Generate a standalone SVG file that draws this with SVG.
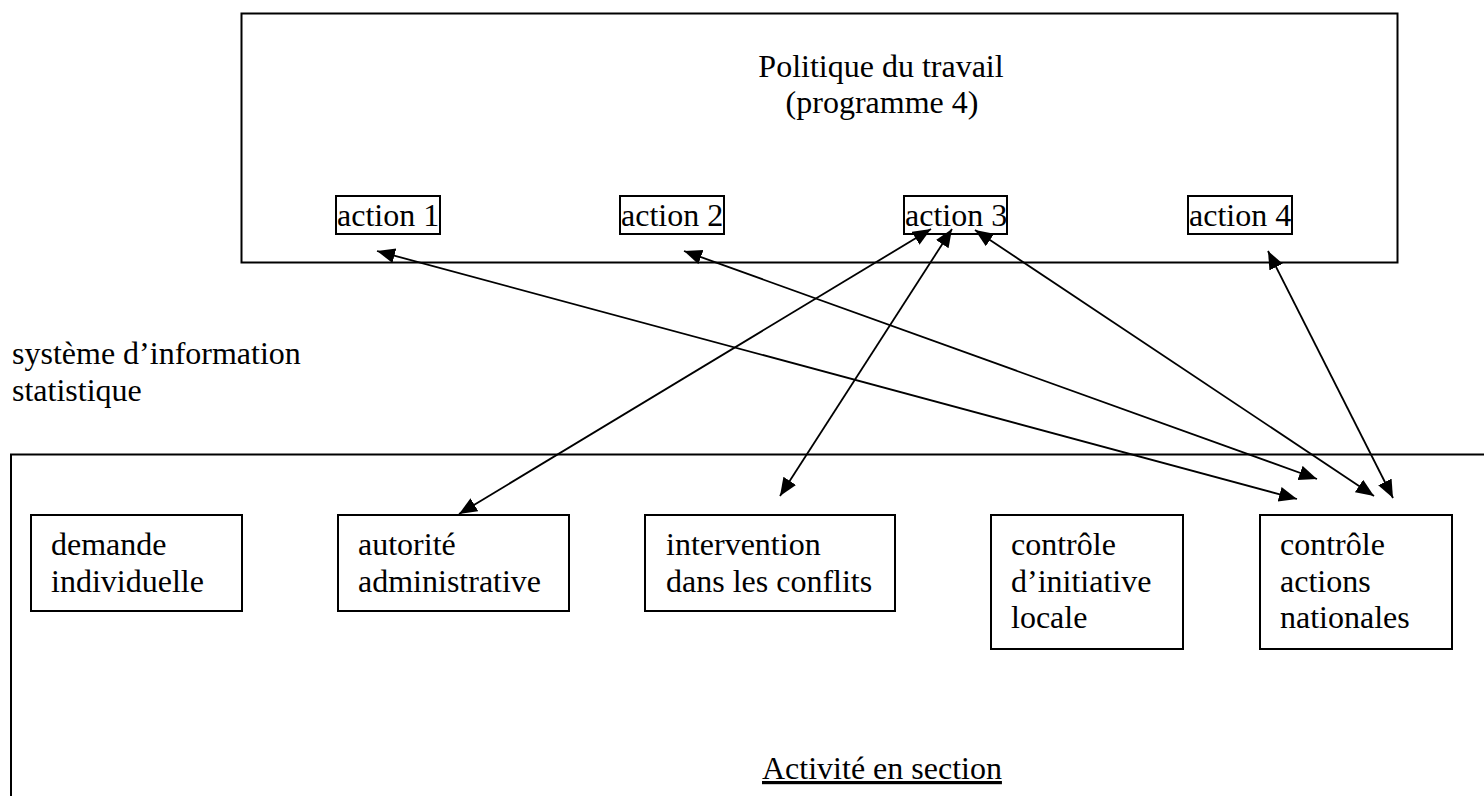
<svg xmlns="http://www.w3.org/2000/svg" width="1484" height="796" viewBox="0 0 1484 796">
<style>
  text { font-family: "Liberation Serif", "Times New Roman", serif; font-size: 32px; fill: #000; }
  .box { fill: none; stroke: #000; stroke-width: 2; }
  .frame { fill: none; stroke: #000; stroke-width: 2; }
  .conn { stroke: #000; stroke-width: 1.8; fill: none; marker-start: url(#ah); marker-end: url(#ah); }
</style>
<defs>
  <marker id="ah" markerUnits="userSpaceOnUse" markerWidth="20" markerHeight="16" refX="18" refY="7.5" orient="auto-start-reverse" viewBox="0 0 20 16">
    <path d="M0,0 L18,7.5 L0,15 z" fill="#000"/>
  </marker>
</defs>
<rect width="1484" height="796" fill="#fff"/>

<g id="programme">
  <rect class="frame" x="241.5" y="13.5" width="1156" height="249"/>
  <text x="881" y="77" text-anchor="middle">Politique du travail</text>
  <text x="882" y="113" text-anchor="middle">(programme 4)</text>
</g>
<g id="action1"><rect class="box" x="336" y="196" width="104" height="38"/><text x="337" y="226">action 1</text></g>
<g id="action2"><rect class="box" x="620" y="196" width="104" height="38"/><text x="621" y="226">action 2</text></g>
<g id="action3"><rect class="box" x="904" y="196" width="103" height="38"/><text x="905" y="226">action 3</text></g>
<g id="action4"><rect class="box" x="1188" y="196" width="104" height="38"/><text x="1189" y="226">action 4</text></g>

<g id="systeme">
  <text x="12" y="364">système d’information</text>
  <text x="12" y="401">statistique</text>
</g>

<g id="section">
  <path class="frame" d="M1486,454.5 H11 V798"/>
  <text x="762" y="779" text-decoration="underline">Activité en section</text>
</g>
<g id="demande"><rect class="box" x="31" y="515" width="211" height="96"/><text x="51" y="555">demande</text><text x="51" y="592">individuelle</text></g>
<g id="autorite"><rect class="box" x="338" y="515" width="231" height="96"/><text x="358" y="555">autorité</text><text x="358" y="592">administrative</text></g>
<g id="intervention"><rect class="box" x="645" y="515" width="250" height="96"/><text x="666" y="555">intervention</text><text x="666" y="592">dans les conflits</text></g>
<g id="controle_local"><rect class="box" x="991" y="515" width="192" height="134"/><text x="1011" y="555">contrôle</text><text x="1011" y="592">d’initiative</text><text x="1011" y="628">locale</text></g>
<g id="controle_national"><rect class="box" x="1260" y="515" width="192" height="134"/><text x="1280" y="555">contrôle</text><text x="1280" y="592">actions</text><text x="1280" y="628">nationales</text></g>

<g id="connectors">
  <line class="conn" x1="377" y1="251" x2="1297" y2="499"/>
  <line class="conn" x1="684" y1="251" x2="1317" y2="479"/>
  <line class="conn" x1="931" y1="229" x2="459" y2="514"/>
  <line class="conn" x1="952" y1="229" x2="780" y2="496"/>
  <line class="conn" x1="975" y1="230" x2="1374" y2="496"/>
  <line class="conn" x1="1268" y1="251" x2="1393" y2="498"/>
</g>
</svg>
